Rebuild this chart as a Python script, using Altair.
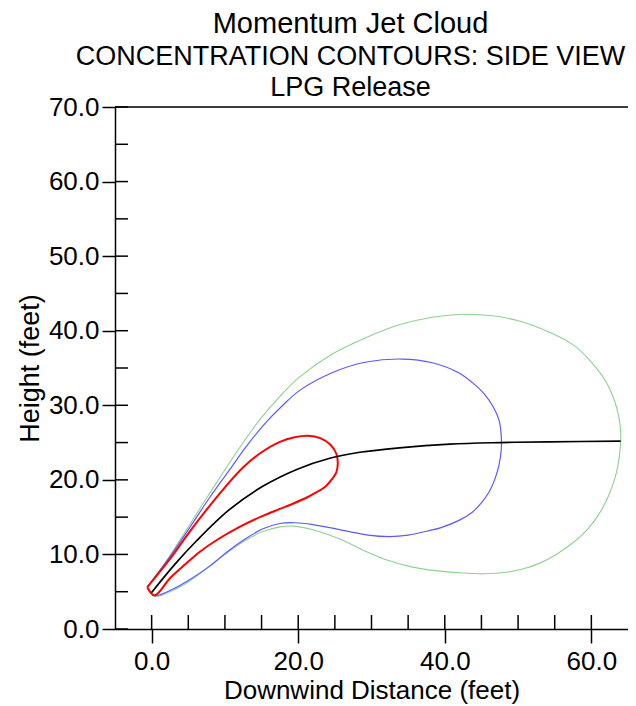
import altair as alt
import pandas as pd

FONT = "Liberation Sans"

# ---- data (feet) ----
green_x = [-0.6, 2.0, 4.5, 7.0, 9.5, 12.0, 14.7, 17.5, 20.2, 24.7, 29.3, 33.8, 38.3, 42.5, 46.5,
           50.5, 54.5, 57.4, 60.0, 62.1, 63.5, 64.0, 64.0, 63.8, 63.4, 62.5, 61.1, 59.5, 57.4,
           55.2, 52.9, 50.5, 48.4, 45.5, 42.4, 39.0, 35.6, 32.0, 28.8, 25.6, 22.0, 19.5, 17.5,
           15.0, 12.5, 10.0, 7.5, 5.0, 2.5, 0.4, -0.6]
green_y = [5.6, 9.1, 12.9, 16.8, 20.6, 24.3, 28.0, 31.2, 33.8, 36.9, 39.1, 40.8, 41.8, 42.2, 42.0,
           41.2, 39.7, 38.2, 35.8, 33.0, 29.5, 26.5, 25.2, 23.0, 20.9, 18.2, 15.5, 13.4, 11.5,
           10.0, 8.8, 8.0, 7.6, 7.4, 7.5, 7.8, 8.3, 9.3, 10.6, 12.1, 13.3, 13.8, 13.7,
           13.0, 11.7, 10.0, 8.1, 6.3, 5.0, 4.4, 5.6]

blue_x = [-0.6, 2.5, 5.2, 7.9, 10.6, 13.0, 15.7, 17.8, 20.2, 24.7, 29.3, 34.2, 38.3, 42.0, 43.8,
          45.4, 46.6, 47.4, 47.7, 47.7, 47.4, 46.8, 46.0, 44.9, 43.8, 42.0, 39.5, 37.9, 35.0,
          32.5, 29.5, 27.0, 24.5, 22.0, 19.5, 17.5, 15.1, 12.5, 10.5, 8.0, 5.5, 3.0, 0.4, -0.6]
blue_y = [5.6, 9.7, 13.6, 17.6, 21.3, 24.6, 27.8, 29.9, 32.0, 34.4, 35.8, 36.2, 35.7, 34.3, 33.0,
          31.5, 29.8, 28.0, 26.0, 24.0, 22.0, 20.0, 18.3, 16.8, 15.7, 14.6, 13.6, 13.2, 12.6,
          12.4, 12.6, 13.05, 13.55, 14.0, 14.25, 14.15, 13.4, 11.9, 10.5, 8.5, 6.8, 5.4, 4.5, 5.6]

red_x = [-0.6, 2.5, 5.0, 7.5, 10.0, 12.5, 15.0, 17.5, 19.5, 21.3, 23.0, 24.4, 25.2, 25.4, 25.2,
         24.6, 23.6, 22.4, 21.3, 19.5, 17.5, 15.0, 12.0, 9.0, 6.5, 4.5, 2.5, 0.4, -0.6]
red_y = [5.6, 9.4, 12.8, 16.0, 19.0, 21.7, 23.7, 25.1, 25.7, 25.9, 25.6, 24.7, 23.5, 22.3, 21.0,
         20.1, 19.0, 18.3, 17.7, 16.9, 16.1, 15.1, 13.7, 12.0, 10.3, 8.6, 6.8, 4.5, 5.6]

center_x = [0.0, 3.1, 6.1, 10.6, 15.1, 19.8, 24.3, 28.4, 33.8, 40.7, 47.5, 54.3, 64.0]
center_y = [4.9, 8.6, 11.8, 16.0, 19.1, 21.4, 22.9, 23.7, 24.3, 24.8, 25.0, 25.1, 25.2]

x_major = [0, 20, 40, 60]
x_all_ticks = list(range(0, 65, 5))
y_major = [0, 10, 20, 30, 40, 50, 60, 70]
y_all_ticks = list(range(0, 75, 5))
top_value = [70]

W, H = 513, 522

def frame(name, xs, ys):
    return pd.DataFrame({"x": xs, "y": ys, "i": range(len(xs)), "curve": name})

x_scale = alt.Scale(domain=[-5, 65], nice=False, zero=False)
y_scale = alt.Scale(domain=[0, 70], nice=False, zero=False)

x_axis = alt.Axis(values=x_major, format=".1f", tickSize=14, tickWidth=1.5, tickColor="black",
                  domainColor="black", domainWidth=1.5, grid=False,
                  labelFont=FONT, labelFontSize=26, labelColor="black", labelPadding=5,
                  title="Downwind Distance (feet)", titleFont=FONT, titleFontSize=26,
                  titleFontWeight="normal", titleColor="black",
                  titleBaseline="alphabetic", titleY=69)
y_axis = alt.Axis(values=y_major, format=".1f", tickSize=13, tickWidth=1.5, tickColor="black",
                  domainColor="black", domainWidth=1.5, grid=False,
                  labelFont=FONT, labelFontSize=26, labelColor="black", labelPadding=3,
                  title="Height (feet)", titleFont=FONT, titleFontSize=27,
                  titleFontWeight="normal", titleColor="black", titleAngle=-90,
                  titleBaseline="alphabetic", titleAlign="center", titleX=-77, titleY=H / 2)

X = lambda f: alt.X(f, type="quantitative", scale=x_scale, axis=x_axis)
Y = lambda f: alt.Y(f, type="quantitative", scale=y_scale, axis=y_axis)

def smooth(df, color, width):
    return alt.Chart(df).mark_line(color=color, strokeWidth=width,
                                   interpolate="catmull-rom").encode(
        x=X("x"), y=Y("y"), order="i:Q")

layers = [
    smooth(frame("green", green_x, green_y), "#8fd18f", 1.1),
    smooth(frame("blue", blue_x, blue_y), "#5a5aff", 1.2),
    smooth(frame("red", red_x, red_y), "#ff0000", 2.0),
    smooth(frame("center", center_x, center_y), "#000000", 1.7),
]

xt = pd.DataFrame({"v": x_all_ticks})
yt = pd.DataFrame({"v": y_all_ticks})
tp = pd.DataFrame({"v": top_value})

x_inner = alt.Chart(xt).mark_rule(color="black", strokeWidth=1.5).encode(
    x=X("v"), y=alt.value(H - 14), y2=alt.value(H))
y_inner = alt.Chart(yt).mark_rule(color="black", strokeWidth=1.5).encode(
    y=Y("v"), x=alt.value(0), x2=alt.value(13))
top_line = alt.Chart(tp).mark_rule(color="black", strokeWidth=1.5).encode(
    y=Y("v"), x=alt.value(0), x2=alt.value(W))

chart = alt.layer(*layers, x_inner, y_inner, top_line).properties(
    width=W, height=H,
    title=alt.TitleParams(
        text="Momentum Jet Cloud",
        subtitle=["CONCENTRATION CONTOURS: SIDE VIEW", "LPG Release"],
        anchor="middle", dx=-21, dy=11, font=FONT, subtitleFont=FONT,
        fontSize=29, subtitleFontSize=27, fontWeight="normal",
        color="black", subtitleColor="black",
        subtitleLineHeight=31, subtitlePadding=5, offset=4),
    autosize=alt.AutoSizeParams(type="none"),
    padding={"left": 107, "top": 99, "right": 0, "bottom": 76},
).configure_view(stroke=None).configure(background="white")

chart.save("out.html", embed_options={"renderer": "svg", "actions": False})
